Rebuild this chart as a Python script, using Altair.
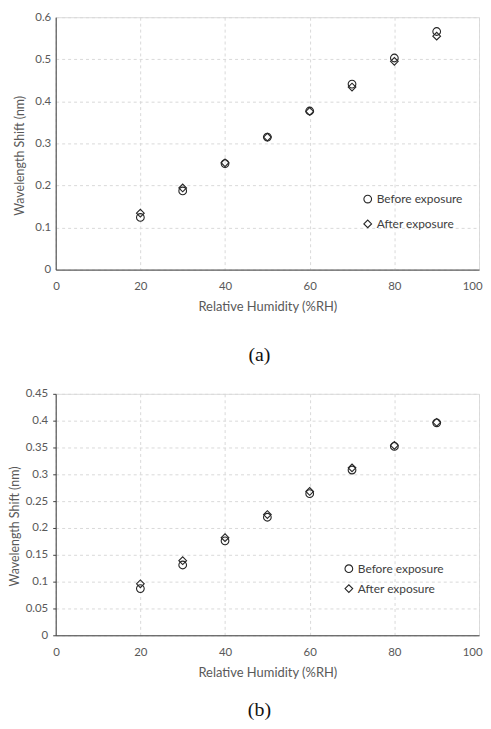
import altair as alt
import pandas as pd

rh = [20, 30, 40, 50, 60, 70, 80, 90]
a_before = [0.124, 0.187, 0.252, 0.315, 0.377, 0.441, 0.503, 0.566]
a_after = [0.134, 0.194, 0.254, 0.315, 0.376, 0.434, 0.495, 0.555]
b_before = [0.087, 0.131, 0.176, 0.220, 0.264, 0.308, 0.352, 0.396]
b_after = [0.096, 0.139, 0.182, 0.225, 0.268, 0.312, 0.354, 0.397]

series = ["Before exposure", "After exposure"]
shapes = ["circle", "diamond"]
x_ticks = [0, 20, 40, 60, 80, 100]
ya_ticks = [0, 0.1, 0.2, 0.3, 0.4, 0.5, 0.6]
yb_ticks = [0, 0.05, 0.1, 0.15, 0.2, 0.25, 0.3, 0.35, 0.4, 0.45]

FONT = "Lato"
GRID = "#d9d9d9"
TXT = "#595959"


def frame(before, after):
    rows = []
    for x, v in zip(rh, before):
        rows.append({"rh": x, "shift": v, "series": series[0]})
    for x, v in zip(rh, after):
        rows.append({"rh": x, "shift": v, "series": series[1]})
    return pd.DataFrame(rows)


def panel(df, yticks, ymax, w, h, title_x, title_y, leg_x, leg_y, row_pad, ytick_size, label, toff):
    xaxis = alt.Axis(
        values=x_ticks, title="Relative Humidity (%RH)", grid=True, gridColor=GRID,
        gridDash=[3, 3], gridWidth=1, ticks=False, tickSize=0, labelPadding=11,
        labelFont=FONT, labelFontSize=11.5, labelColor=TXT, titleFont=FONT,
        titleFontSize=13, titleColor=TXT, titleFontWeight="normal", titlePadding=9,
        domainColor="#404040", labelFlush=True, labelFlushOffset=3,
    )
    yaxis = alt.Axis(
        values=yticks, format="~g", title="Wavelength Shift (nm)", grid=True,
        gridColor=GRID, gridDash=[3, 3], gridWidth=1,
        ticks=ytick_size > 0, tickSize=ytick_size, tickColor="#404040",
        labelPadding=5, labelFont=FONT, labelFontSize=11.5, labelColor=TXT,
        titleFont=FONT, titleFontSize=12.5, titleColor=TXT, titleFontWeight="normal",
        titleX=title_x, titleY=title_y,
        domainColor="#404040", labelFlush=False,
    )
    return (
        alt.Chart(df)
        .mark_point(filled=False, size=60, strokeWidth=1.1, color="#262626", opacity=1)
        .encode(
            x=alt.X("rh:Q", scale=alt.Scale(domain=[0, 100], nice=False), axis=xaxis),
            y=alt.Y("shift:Q", scale=alt.Scale(domain=[0, ymax], nice=False), axis=yaxis),
            shape=alt.Shape(
                "series:N",
                scale=alt.Scale(domain=series, range=shapes),
                legend=alt.Legend(
                    title=None, orient="none", legendX=leg_x, legendY=leg_y,
                    padding=0, rowPadding=row_pad, labelFont=FONT, labelFontSize=12,
                    labelColor="#404040", labelOffset=3, symbolSize=60,
                    symbolStrokeColor="#262626", symbolStrokeWidth=1.1,
                    symbolFillColor="transparent",
                ),
            ),
        )
        .properties(
            width=w, height=h,
            title=alt.TitleParams(
                label, orient="bottom", font="Liberation Serif", fontSize=20,
                fontWeight="normal", color="#111111", offset=toff, dx=-8,
            ),
        )
    )


top = panel(frame(a_before, a_after), ya_ticks, 0.6, 426, 254, -29, 139, 308, 177, 11, 0, "(a)", 31)
bottom = panel(frame(b_before, b_after), yb_ticks, 0.45, 426, 243, -34, 133, 289, 170, 6, 3, "(b)", 21)

chart = (
    alt.vconcat(top, bottom, spacing=22)
    .resolve_scale(shape="independent")
    .resolve_legend(shape="independent")
    .properties(padding={"left": 0, "top": 0, "right": 0, "bottom": 0})
    .configure_view(stroke=None)
    .configure(background="white")
)

chart.save("out.html", embed_options={"renderer": "svg", "actions": False})
